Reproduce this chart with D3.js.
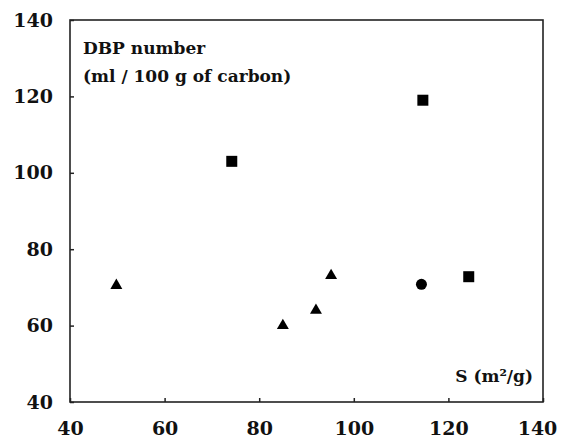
<!DOCTYPE html>
<html><head><meta charset="utf-8">
<script src="https://cdn.jsdelivr.net/npm/d3@7"></script>
<style>body{margin:0;background:#fff}svg{display:block}</style>
</head><body>
<script>
const squareS = [74.2, 114.6, 124.3];
const squareDBP = [103, 119, 72.8];
const circleS = [114.3];
const circleDBP = [70.8];
const triangleS = [49.8, 85, 92, 95.2];
const triangleDBP = [70.5, 60, 64, 73.1];
const xTicks = [40, 60, 80, 100, 120, 140];
const yTicks = [40, 60, 80, 100, 120, 140];

const W = 561, H = 438;
const m = {l: 70, r: 18, t: 20, b: 36};
const svg = d3.select("body").append("svg").attr("width", W).attr("height", H);
const x = d3.scaleLinear().domain([40, 140]).range([m.l, W - m.r]);
const y = d3.scaleLinear().domain([40, 140]).range([H - m.b, m.t]);
const font = "'DejaVu Serif', serif";

svg.append("rect").attr("x", m.l).attr("y", m.t).attr("width", W - m.r - m.l).attr("height", H - m.b - m.t)
  .attr("fill", "none").attr("stroke", "#222").attr("stroke-width", 1.6);

const xa = svg.append("g").attr("transform", `translate(0,${H - m.b})`)
  .call(d3.axisBottom(x).tickValues(xTicks).tickSizeInner(-4).tickSizeOuter(0).tickPadding(20));
const ya = svg.append("g").attr("transform", `translate(${m.l},0)`)
  .call(d3.axisLeft(y).tickValues(yTicks).tickSizeInner(-4).tickSizeOuter(0).tickPadding(17));
[xa, ya].forEach(a => {
  a.select(".domain").remove();
  a.selectAll("line").attr("stroke", "#222").attr("stroke-width", 1.5);
  a.selectAll("text").attr("font-family", font).attr("font-weight", "bold").attr("font-size", 19).attr("fill", "#111");
});
xa.selectAll(".tick").filter(d => d === 140).select("text").attr("dx", -6);

const sq = 11;
svg.append("g").selectAll("rect").data(squareS).join("rect")
  .attr("x", (d) => x(d) - sq / 2).attr("y", (d, i) => y(squareDBP[i]) - sq / 2)
  .attr("width", sq).attr("height", sq).attr("fill", "#000");
svg.append("g").selectAll("circle").data(circleS).join("circle")
  .attr("cx", d => x(d)).attr("cy", (d, i) => y(circleDBP[i])).attr("r", 5.5).attr("fill", "#000");
const tri = d3.symbol().type(d3.symbolTriangle).size(62);
svg.append("g").selectAll("path").data(triangleS).join("path")
  .attr("d", tri).attr("transform", (d, i) => `translate(${x(d)},${y(triangleDBP[i])})`).attr("fill", "#000");

const lbl = svg.append("g").attr("font-family", font).attr("font-weight", "bold").attr("font-size", 17).attr("fill", "#111");
lbl.append("text").attr("x", 83).attr("y", 54).text("DBP number");
lbl.append("text").attr("x", 83).attr("y", 82).text("(ml / 100 g of carbon)");
lbl.append("text").attr("x", 533).attr("y", 382).attr("text-anchor", "end").text("S (m²/g)");
</script>
</body></html>
